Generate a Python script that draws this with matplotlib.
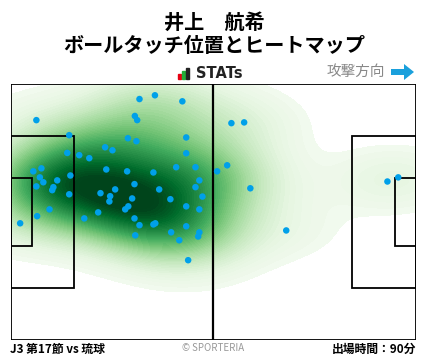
import numpy as np
import matplotlib.pyplot as plt
from matplotlib.patches import Rectangle, FancyArrow

plt.rcParams['font.family'] = ['Noto Sans CJK JP', 'DejaVu Sans']

# ball touch positions (pitch metres, x from own goal, y from top touchline)
touch_x = [33.4, 37.4, 44.5, 6.7, 32.2, 32.8, 15.2, 30.4, 32.6, 45.5,
           14.7, 17.8, 20.4, 24.5, 26.4, 45.5, 5.9, 8.0, 7.6, 8.5,
           6.7, 12.1, 11.1, 10.8, 15.5, 15.2, 24.8, 30.2, 37.0, 42.9,
           47.9, 53.5, 48.9, 47.9, 49.7, 32.1, 27.1, 38.5, 23.3, 25.8,
           25.6, 31.5, 41.4, 45.5, 30.5, 29.7, 48.9, 10.1, 6.9, 22.7,
           19.1, 32.1, 33.4, 37.0, 37.5, 45.5, 2.5, 32.3, 41.6, 43.7,
           48.9, 48.6, 46.0, 57.2, 60.5, 56.1, 62.1, 71.4, 97.6, 100.4]
touch_y = [4.0, 3.0, 4.6, 9.6, 8.5, 9.6, 13.6, 14.4, 15.2, 14.2,
           18.3, 18.9, 19.7, 16.8, 17.6, 18.4, 23.2, 22.4, 24.8, 26.1,
           27.2, 25.6, 27.4, 28.2, 24.3, 29.3, 22.7, 23.2, 23.5, 22.1,
           22.1, 23.2, 25.6, 27.4, 29.9, 26.6, 28.0, 28.0, 29.0, 29.8,
           31.2, 30.4, 30.6, 32.5, 32.5, 33.3, 33.3, 33.3, 35.1, 34.1,
           35.7, 35.7, 37.5, 37.3, 37.0, 37.8, 37.0, 40.2, 39.4, 41.5,
           39.4, 40.5, 46.8, 10.4, 10.2, 21.6, 27.7, 38.9, 25.9, 24.8]

player = "井上　航希"
subtitle = "ボールタッチ位置とヒートマップ"
match_label = "J3 第17節 vs 琉球"
minutes_label = "出場時間：90分"

L, W = 105.0, 68.0

fig = plt.figure(figsize=(4.28, 3.59), dpi=100)
ax = fig.add_axes([10.5 / 428, 19 / 359, 405.5 / 428, 256 / 359])
ax.set_xlim(0, L)
ax.set_ylim(W, 0)
ax.axis('off')

# heatmap: simple gaussian kde on a grid
xs = np.array(touch_x)
ys = np.array(touch_y)
gx, gy = np.meshgrid(np.linspace(0, L, 300), np.linspace(0, W, 200))
bw_x = 1.2 * xs.std() * len(xs) ** (-1 / 6)
bw_y = 1.25 * ys.std() * len(ys) ** (-1 / 6)
dens = np.zeros_like(gx)
for px, py in zip(xs, ys):
    dens += np.exp(-0.5 * (((gx - px) / bw_x) ** 2 + ((gy - py) / bw_y) ** 2))
dens /= dens.max()
levels = np.linspace(0.035, 1.0, 60)
ax.contourf(gx, gy, dens, levels=levels, cmap='Greens', vmin=0.0, vmax=0.95, extend='max')

# pitch lines
lc = 'black'
lw = 1.3
ax.add_patch(Rectangle((0, 0), L, W, fill=False, ec=lc, lw=lw, zorder=3))
ax.plot([L / 2, L / 2], [0, W], color=lc, lw=1.6, zorder=3)
for x0, sgn in [(0, 1), (L, -1)]:
    ax.add_patch(Rectangle((x0, W / 2 - 20.16), sgn * 16.5, 40.32, fill=False, ec=lc, lw=lw, zorder=3))
    ax.add_patch(Rectangle((x0, W / 2 - 9.16), sgn * 5.5, 18.32, fill=False, ec=lc, lw=lw, zorder=3))

ax.scatter(xs, ys, s=22, color='#00a0e9', edgecolors='none', zorder=4)

# header
fig.text(0.5, 1 - 22 / 359, player, ha='center', va='center', fontsize=14.5, fontweight='bold')
fig.text(0.5, 1 - 46 / 359, subtitle, ha='center', va='center', fontsize=14.5, fontweight='bold')

# STATs logo
for i, (c, h) in enumerate([('#e60012', 5), ('#22ac38', 8), ('#222222', 11)]):
    fig.patches.append(Rectangle(((177.5 + i * 4) / 428, 1 - 79 / 359), 3 / 428, h / 359,
                                 transform=fig.transFigure, color=c))
fig.text(196 / 428, 1 - 73 / 359, "STATs", ha='left', va='center', fontsize=10.5, fontweight='bold',
         family='DejaVu Sans', color='#222222')

# attack direction
fig.text(385 / 428, 1 - 72 / 359, "攻撃方向", ha='right', va='center', fontsize=10.5, color='#888888')
fig.patches.append(FancyArrow(391 / 428, 1 - 72 / 359, 13 / 428, 0, width=6 / 359,
                              head_width=16 / 359, head_length=10 / 428, length_includes_head=False,
                              transform=fig.transFigure, color='#1aa0dc', lw=0))

# footer
fig.text(10 / 428, 1 - 349 / 359, match_label, ha='left', va='center', fontsize=8.5, fontweight='bold')
fig.text(213 / 428, 1 - 348 / 359, "© SPORTERIA", ha='center', va='center', fontsize=7, color='#999999')
fig.text(416 / 428, 1 - 349 / 359, minutes_label, ha='right', va='center', fontsize=8.5, fontweight='bold')

fig.savefig('out.png', dpi=100)
